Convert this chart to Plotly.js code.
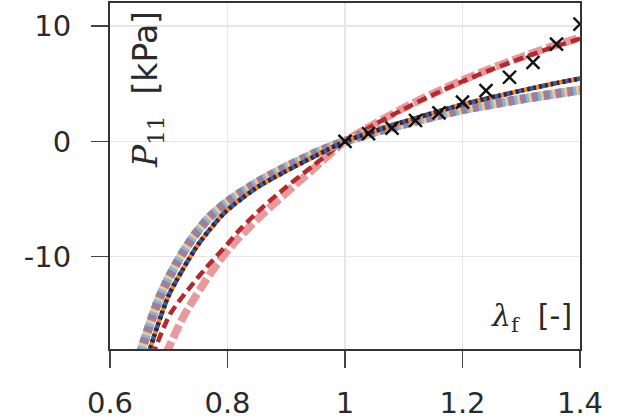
<!DOCTYPE html>
<html>
<head>
<meta charset="utf-8">
<script src="https://cdn.plot.ly/plotly-3.0.1.min.js"></script>
<style>
  html, body { margin: 0; padding: 0; background: #fff; }
  #plot { width: 618px; height: 419px; }
</style>
</head>
<body>
<div id="plot"></div>
<script>
// stretch λ_f and first PK stress P_11 [kPa]

// light thick group (mauve / light blue / peach)
const lamLight = [0.645, 0.654, 0.685, 0.7135, 0.742, 0.77, 0.80, 0.838, 0.878, 0.923, 0.963, 1.0, 1.05, 1.1, 1.15, 1.2, 1.25, 1.3, 1.35, 1.4];
const pLight   = [-19.5, -18.0, -13.46, -10.57, -8.27, -6.54, -5.24, -3.95, -2.79, -1.64, -0.72, 0, 0.8, 1.5, 2.15, 2.75, 3.22, 3.67, 4.07, 4.45];

// dark thin group (blue / orange / purple)
const lamDark = [0.66, 0.668, 0.699, 0.725, 0.75, 0.782, 0.80, 0.85, 0.895, 0.946, 1.0, 1.05, 1.1, 1.15, 1.2, 1.25, 1.3, 1.35, 1.4];
const pDark   = [-19.4, -18.0, -13.46, -11.0, -8.95, -6.9, -5.95, -4.0, -2.7, -1.35, 0, 0.88, 1.7, 2.47, 3.2, 3.82, 4.4, 4.95, 5.45];

// dark red dashed
const lamRed = [0.672, 0.6766, 0.702, 0.733, 0.7646, 0.80, 0.821, 0.861, 0.90, 0.946, 0.98, 1.0, 1.05, 1.1, 1.15, 1.2, 1.25, 1.3, 1.35, 1.4];
const pRed   = [-18.6, -18.0, -15.0, -12.85, -10.9, -8.9, -7.65, -5.65, -3.95, -2.1, -0.72, 0, 1.45, 2.8, 4.05, 5.2, 6.25, 7.2, 8.1, 8.9];

// light red thick dashed
const lamPink = [0.695, 0.699, 0.725, 0.756, 0.787, 0.8157, 0.855, 0.90, 0.946, 0.98, 1.0, 1.05, 1.1, 1.15, 1.2, 1.25, 1.3, 1.35, 1.4];
const pPink   = [-18.45, -18.0, -15.2, -12.6, -10.3, -8.56, -6.54, -4.45, -2.4, -0.85, 0, 1.5, 2.9, 4.15, 5.3, 6.35, 7.3, 8.2, 9.0];

// experiment (crosses)
const lamExp = [1.0, 1.04, 1.08, 1.12, 1.16, 1.2, 1.24, 1.28, 1.32, 1.36, 1.4];
const pExp   = [0, 0.67, 1.15, 1.81, 2.48, 3.4, 4.41, 5.56, 6.85, 8.44, 10.17];

const xTicks = [0.6, 0.8, 1.0, 1.2, 1.4];
const xTickText = ['0.6', '0.8', '1', '1.2', '1.4'];
const yTicks = [-10, 0, 10];
const yTickText = ['-10', '0', '10'];

function line(x, y, color, width, dash) {
  return {
    x: x, y: y, type: 'scatter', mode: 'lines', hoverinfo: 'skip',
    line: { color: color, width: width, dash: dash, shape: 'spline', smoothing: 0.8 }
  };
}

const traces = [
  line(lamPink, pPink, '#e8999b', 8, '14px,4px'),
  line(lamRed, pRed, '#b5282c', 4.5, '10px,5px'),
  line(lamLight, pLight, '#f2c58f', 9, 'solid'),
  line(lamLight, pLight, '#7fb8df', 9, '9px,3px'),
  line(lamLight, pLight, '#a07d98', 9, '6px,6px'),
  line(lamDark, pDark, '#e88c1c', 4.5, 'solid'),
  line(lamDark, pDark, '#1d6ea8', 4.5, '6px,6px'),
  line(lamDark, pDark, '#4a1a45', 4.5, '3px,3px'),
  {
    x: lamExp, y: pExp, type: 'scatter', mode: 'markers', hoverinfo: 'skip',
    marker: { symbol: 'x-thin-open', size: 13, color: '#111', line: { color: '#111', width: 2.4 } }
  }
];

const tickFont = { family: 'DejaVu Sans, sans-serif', size: 29, color: '#2a2a2a' };

const layout = {
  width: 618, height: 419,
  margin: { l: 110, r: 38, t: 3, b: 70 },
  paper_bgcolor: '#fff', plot_bgcolor: '#fff',
  showlegend: false,
  xaxis: {
    range: [0.6, 1.4], tickvals: xTicks, ticktext: xTickText,
    showgrid: true, gridcolor: '#e6e6e6', gridwidth: 1.5,
    showline: true, linecolor: '#333', linewidth: 2, mirror: true,
    ticks: 'outside', ticklen: 17, tickwidth: 1.5, tickcolor: '#444',
    tickfont: tickFont, zeroline: false, ticklabelstandoff: 10
  },
  yaxis: {
    range: [-18, 12], tickvals: yTicks, ticktext: yTickText,
    showgrid: true, gridcolor: '#e6e6e6', gridwidth: 1.5,
    showline: true, linecolor: '#333', linewidth: 2, mirror: true,
    ticks: 'outside', ticklen: 17, tickwidth: 1.5, tickcolor: '#444',
    tickfont: tickFont, zeroline: false, ticklabelstandoff: 14
  },
  annotations: [
    {
      xref: 'paper', yref: 'paper', x: 0.08, y: 0.75, xanchor: 'center', yanchor: 'middle',
      textangle: -90, showarrow: false,
      text: '<span style="font-family:\'DejaVu Serif\'"><i>P</i><sub>11</sub></span>  [kPa]',
      font: { family: 'DejaVu Sans, sans-serif', size: 33, color: '#2a2a2a' }
    },
    {
      xref: 'paper', yref: 'paper', x: 0.896, y: 0.09, xanchor: 'center', yanchor: 'middle',
      showarrow: false,
      text: '<span style="font-family:\'DejaVu Serif\'"><i>λ</i><sub>f</sub></span>  [-]',
      font: { family: 'DejaVu Sans, sans-serif', size: 30, color: '#2a2a2a' }
    }
  ]
};

Plotly.newPlot('plot', traces, layout, { staticPlot: true, displayModeBar: false });
</script>
</body>
</html>
